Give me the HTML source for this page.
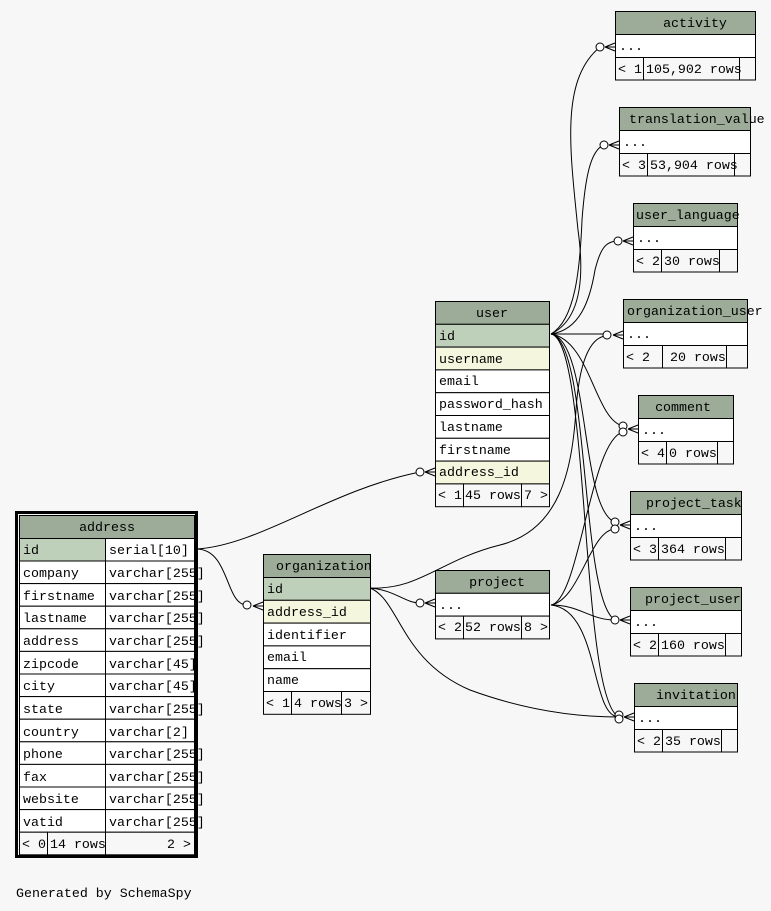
<!DOCTYPE html>
<html><head><meta charset="utf-8"><style>
html,body{margin:0;padding:0;background:#f7f7f7;}
svg{display:block;}
text{font-family:"Liberation Mono","DejaVu Sans Mono",monospace;font-size:13.3px;fill:#000;}
.h{fill:#9cac98;stroke:#000;stroke-width:1}
.pk{fill:#bfd0ba;stroke:#000;stroke-width:1}
.fk{fill:#f4f7de;stroke:#000;stroke-width:1}
.w{fill:#fff;stroke:#000;stroke-width:1}
.f{fill:#f7f7f7;stroke:#000;stroke-width:1}
.e{fill:none;stroke:#000;stroke-width:1}
.c{fill:#fff;stroke:#000;stroke-width:1}
</style></head><body>
<svg width="771" height="911" viewBox="0 0 771 911" xmlns="http://www.w3.org/2000/svg">
<!-- edges -->
<g class="e">
<path d="M551,334 C580,320 585,280 578,230 C570,150 560,80 600,47"/>
<path d="M551,334 C575,320 580,270 582,220 C585,180 590,150 604,145"/>
<path d="M551,334 C580,330 590,300 595,270 C600,250 605,241 618,241"/>
<path d="M551,334 L607,334"/>
<path d="M551,334 C590,340 595,420 623,426"/>
<path d="M551,334 C590,340 580,510 615,522"/>
<path d="M551,334 C590,340 580,600 615,620"/>
<path d="M551,334 C590,340 580,700 619,717"/>
<path d="M370,588 C420,590 440,560 500,545 C560,530 572,470 576,410 C580,350 595,336 607,336"/>
<path d="M370,588 C395,590 405,603 420,603"/>
<path d="M370,588 C400,600 400,660 470,690 C530,712 580,717 619,717"/>
<path d="M551,605 C580,600 590,440 623,432"/>
<path d="M551,605 C580,600 590,530 615,529"/>
<path d="M551,605 C580,605 590,620 615,620"/>
<path d="M551,605 C600,610 590,717 619,717"/>
<path d="M197,549 C260,545 330,490 420,472"/>
<path d="M197,549 C230,550 225,605 247,605"/>
</g>
<!-- crows feet + circles -->
<g class="e" stroke-width="1.8">
<path d="M605,47 L615,43 M605,47 L615,47 M605,47 L615,51"/>
<path d="M609,145 L619,141 M609,145 L619,145 M609,145 L619,149"/>
<path d="M623,241 L633,237 M623,241 L633,241 M623,241 L633,245"/>
<path d="M613,335 L623,331 M613,335 L623,335 M613,335 L623,339"/>
<path d="M628,429 L638,425 M628,429 L638,429 M628,429 L638,433"/>
<path d="M620,525 L630,521 M620,525 L630,525 M620,525 L630,529"/>
<path d="M620,620 L630,616 M620,620 L630,620 M620,620 L630,624"/>
<path d="M624,717 L634,713 M624,717 L634,717 M624,717 L634,721"/>
<path d="M425,472 L435,468 M425,472 L435,472 M425,472 L435,476"/>
<path d="M425,603 L435,599 M425,603 L435,603 M425,603 L435,607"/>
<path d="M253,606 L263,602 M253,606 L263,606 M253,606 L263,610"/>
</g>
<g class="c">
<circle cx="600" cy="47" r="4"/><circle cx="604" cy="145" r="4"/><circle cx="618" cy="241" r="4"/>
<circle cx="607" cy="335" r="4"/><circle cx="623" cy="426" r="4"/><circle cx="623" cy="432" r="4"/>
<circle cx="615" cy="522" r="4"/><circle cx="615" cy="529" r="4"/><circle cx="615" cy="620" r="4"/>
<circle cx="619" cy="715" r="4"/><circle cx="619" cy="719" r="4"/>
<circle cx="420" cy="472" r="4"/><circle cx="420" cy="603" r="4"/><circle cx="247" cy="605" r="4"/>
</g>

<!-- address -->
<rect x="16.5" y="512.5" width="180" height="344" fill="#f7f7f7" stroke="#000" stroke-width="3"/>
<rect class="h" x="19.5" y="515.5" width="175" height="23"/><text x="107" y="531" text-anchor="middle">address</text>
<rect class="pk" x="19.5" y="538.5" width="86" height="22.6"/><rect class="w" x="105.5" y="538.5" width="89" height="22.6"/>
<text x="23" y="554">id</text><text x="109" y="554">serial[10]</text>
<g>
<rect class="w" x="19.5" y="561" width="86" height="22.6"/><rect class="w" x="105.5" y="561" width="89" height="22.6"/>
<rect class="w" x="19.5" y="583.6" width="86" height="22.6"/><rect class="w" x="105.5" y="583.6" width="89" height="22.6"/>
<rect class="w" x="19.5" y="606.2" width="86" height="22.6"/><rect class="w" x="105.5" y="606.2" width="89" height="22.6"/>
<rect class="w" x="19.5" y="628.8" width="86" height="22.6"/><rect class="w" x="105.5" y="628.8" width="89" height="22.6"/>
<rect class="w" x="19.5" y="651.4" width="86" height="22.6"/><rect class="w" x="105.5" y="651.4" width="89" height="22.6"/>
<rect class="w" x="19.5" y="674" width="86" height="22.6"/><rect class="w" x="105.5" y="674" width="89" height="22.6"/>
<rect class="w" x="19.5" y="696.6" width="86" height="22.6"/><rect class="w" x="105.5" y="696.6" width="89" height="22.6"/>
<rect class="w" x="19.5" y="719.2" width="86" height="22.6"/><rect class="w" x="105.5" y="719.2" width="89" height="22.6"/>
<rect class="w" x="19.5" y="741.8" width="86" height="22.6"/><rect class="w" x="105.5" y="741.8" width="89" height="22.6"/>
<rect class="w" x="19.5" y="764.4" width="86" height="22.6"/><rect class="w" x="105.5" y="764.4" width="89" height="22.6"/>
<rect class="w" x="19.5" y="787" width="86" height="22.6"/><rect class="w" x="105.5" y="787" width="89" height="22.6"/>
<rect class="w" x="19.5" y="809.6" width="86" height="22.6"/><rect class="w" x="105.5" y="809.6" width="89" height="22.6"/>
<rect class="f" x="19.5" y="832.2" width="28" height="22.6"/><rect class="f" x="47.5" y="832.2" width="58" height="22.6"/><rect class="f" x="105.5" y="832.2" width="89" height="22.6"/>
</g>
<text x="23" y="577">company</text><text x="109" y="577">varchar[255]</text>
<text x="23" y="600">firstname</text><text x="109" y="600">varchar[255]</text>
<text x="23" y="622">lastname</text><text x="109" y="622">varchar[255]</text>
<text x="23" y="645">address</text><text x="109" y="645">varchar[255]</text>
<text x="23" y="668">zipcode</text><text x="109" y="668">varchar[45]</text>
<text x="23" y="690">city</text><text x="109" y="690">varchar[45]</text>
<text x="23" y="713">state</text><text x="109" y="713">varchar[255]</text>
<text x="23" y="736">country</text><text x="109" y="736">varchar[2]</text>
<text x="23" y="758">phone</text><text x="109" y="758">varchar[255]</text>
<text x="23" y="781">fax</text><text x="109" y="781">varchar[255]</text>
<text x="23" y="803">website</text><text x="109" y="803">varchar[255]</text>
<text x="23" y="826">vatid</text><text x="109" y="826">varchar[255]</text>
<text x="22" y="848">&lt; 0</text><text x="50" y="848">14 rows</text><text x="191" y="848" text-anchor="end">2 &gt;</text>

<!-- organization -->
<rect class="h" x="263.5" y="554.5" width="107" height="23"/><text x="276" y="570">organization</text>
<rect class="pk" x="263.5" y="577.5" width="107" height="22.8"/><text x="267" y="593">id</text>
<rect class="fk" x="263.5" y="600.3" width="107" height="22.8"/><text x="267" y="616">address_id</text>
<rect class="w" x="263.5" y="623.1" width="107" height="22.8"/><text x="267" y="639">identifier</text>
<rect class="w" x="263.5" y="645.9" width="107" height="22.8"/><text x="267" y="661">email</text>
<rect class="w" x="263.5" y="668.7" width="107" height="22.8"/><text x="267" y="684">name</text>
<rect class="f" x="263.5" y="691.5" width="28" height="22.8"/><rect class="f" x="291.5" y="691.5" width="50" height="22.8"/><rect class="f" x="341.5" y="691.5" width="29" height="22.8"/>
<text x="266" y="707">&lt; 1</text><text x="294" y="707">4 rows</text><text x="344" y="707">3 &gt;</text>

<!-- user -->
<rect class="h" x="435.5" y="301.5" width="114" height="22.8"/><text x="492" y="317" text-anchor="middle">user</text>
<rect class="pk" x="435.5" y="324.3" width="114" height="22.8"/><text x="439" y="340">id</text>
<rect class="fk" x="435.5" y="347.1" width="114" height="22.8"/><text x="439" y="363">username</text>
<rect class="w" x="435.5" y="369.9" width="114" height="22.8"/><text x="439" y="385">email</text>
<rect class="w" x="435.5" y="392.7" width="114" height="22.8"/><text x="439" y="408">password_hash</text>
<rect class="w" x="435.5" y="415.5" width="114" height="22.8"/><text x="439" y="431">lastname</text>
<rect class="w" x="435.5" y="438.3" width="114" height="22.8"/><text x="439" y="454">firstname</text>
<rect class="fk" x="435.5" y="461.1" width="114" height="22.8"/><text x="439" y="476">address_id</text>
<rect class="f" x="435.5" y="483.9" width="28" height="22.8"/><rect class="f" x="463.5" y="483.9" width="58" height="22.8"/><rect class="f" x="521.5" y="483.9" width="28" height="22.8"/>
<text x="438" y="499">&lt; 1</text><text x="465" y="499">45 rows</text><text x="524" y="499">7 &gt;</text>

<!-- project -->
<rect class="h" x="435.5" y="570.5" width="114" height="22.8"/><text x="497" y="586" text-anchor="middle">project</text>
<rect class="w" x="435.5" y="593.3" width="114" height="22.8"/><text x="439" y="609">...</text>
<rect class="f" x="435.5" y="616.1" width="28" height="22.8"/><rect class="f" x="463.5" y="616.1" width="58" height="22.8"/><rect class="f" x="521.5" y="616.1" width="28" height="22.8"/>
<text x="438" y="631">&lt; 2</text><text x="465" y="631">52 rows</text><text x="524" y="631">8 &gt;</text>

<!-- activity -->
<rect class="h" x="615.5" y="11.5" width="140" height="23"/><text x="695" y="27" text-anchor="middle">activity</text>
<rect class="w" x="615.5" y="34.5" width="140" height="23"/><text x="619" y="50">...</text>
<rect class="f" x="615.5" y="57.5" width="28" height="22.5"/><rect class="f" x="643.5" y="57.5" width="96" height="22.5"/><rect class="f" x="739.5" y="57.5" width="16" height="22.5"/>
<text x="618" y="73">&lt; 1</text><text x="646" y="73">105,902 rows</text>

<!-- translation_value -->
<rect class="h" x="619.5" y="107.5" width="131" height="23"/><text x="629" y="123">translation_value</text>
<rect class="w" x="619.5" y="130.5" width="131" height="23"/><text x="623" y="146">...</text>
<rect class="f" x="619.5" y="153.5" width="28" height="22.5"/><rect class="f" x="647.5" y="153.5" width="87" height="22.5"/><rect class="f" x="734.5" y="153.5" width="16" height="22.5"/>
<text x="622" y="169">&lt; 3</text><text x="650" y="169">53,904 rows</text>

<!-- user_language -->
<rect class="h" x="633.5" y="203.5" width="104" height="23"/><text x="636" y="219">user_language</text>
<rect class="w" x="633.5" y="226.5" width="104" height="23"/><text x="637" y="242">...</text>
<rect class="f" x="633.5" y="249.5" width="28" height="22.5"/><rect class="f" x="661.5" y="249.5" width="58" height="22.5"/><rect class="f" x="719.5" y="249.5" width="18" height="22.5"/>
<text x="636" y="265">&lt; 2</text><text x="664" y="265">30 rows</text>

<!-- organization_user -->
<rect class="h" x="623.5" y="299.5" width="124" height="23"/><text x="627" y="315">organization_user</text>
<rect class="w" x="623.5" y="322.5" width="124" height="23"/><text x="627" y="338">...</text>
<rect class="f" x="623.5" y="345.5" width="39" height="22.5"/><rect class="f" x="662.5" y="345.5" width="64" height="22.5"/><rect class="f" x="726.5" y="345.5" width="21" height="22.5"/>
<text x="626" y="361">&lt; 2</text><text x="670" y="361">20 rows</text>

<!-- comment -->
<rect class="h" x="638.5" y="395.5" width="95" height="23"/><text x="683" y="411" text-anchor="middle">comment</text>
<rect class="w" x="638.5" y="418.5" width="95" height="23"/><text x="642" y="434">...</text>
<rect class="f" x="638.5" y="441.5" width="28" height="22.5"/><rect class="f" x="666.5" y="441.5" width="51" height="22.5"/><rect class="f" x="717.5" y="441.5" width="16" height="22.5"/>
<text x="641" y="457">&lt; 4</text><text x="669" y="457">0 rows</text>

<!-- project_task -->
<rect class="h" x="630.5" y="491.5" width="111" height="23"/><text x="646" y="507">project_task</text>
<rect class="w" x="630.5" y="514.5" width="111" height="23"/><text x="634" y="530">...</text>
<rect class="f" x="630.5" y="537.5" width="28" height="22.5"/><rect class="f" x="658.5" y="537.5" width="67" height="22.5"/><rect class="f" x="725.5" y="537.5" width="16" height="22.5"/>
<text x="633" y="553">&lt; 3</text><text x="661" y="553">364 rows</text>

<!-- project_user -->
<rect class="h" x="630.5" y="587.5" width="111" height="23"/><text x="645" y="603">project_user</text>
<rect class="w" x="630.5" y="610.5" width="111" height="23"/><text x="634" y="626">...</text>
<rect class="f" x="630.5" y="633.5" width="28" height="22.5"/><rect class="f" x="658.5" y="633.5" width="67" height="22.5"/><rect class="f" x="725.5" y="633.5" width="16" height="22.5"/>
<text x="633" y="649">&lt; 2</text><text x="661" y="649">160 rows</text>

<!-- invitation -->
<rect class="h" x="634.5" y="683.5" width="103" height="23"/><text x="656" y="699">invitation</text>
<rect class="w" x="634.5" y="706.5" width="103" height="23"/><text x="638" y="722">...</text>
<rect class="f" x="634.5" y="729.5" width="28" height="22.5"/><rect class="f" x="662.5" y="729.5" width="59" height="22.5"/><rect class="f" x="721.5" y="729.5" width="16" height="22.5"/>
<text x="637" y="745">&lt; 2</text><text x="665" y="745">35 rows</text>

<text x="16" y="897">Generated by SchemaSpy</text>
</svg>
</body></html>
